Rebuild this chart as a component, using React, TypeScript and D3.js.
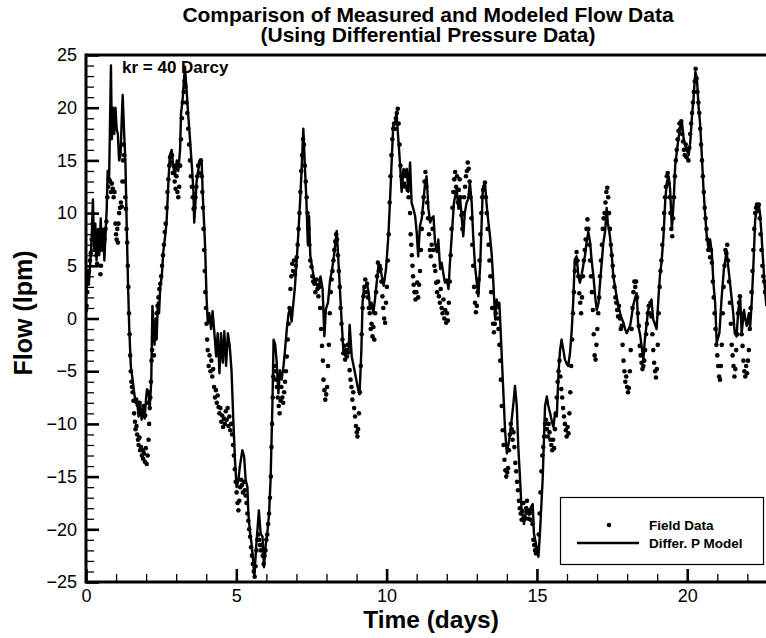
import { useEffect, useRef } from "react";
import * as d3 from "d3";

const titleLines = ["Comparison of Measured and Modeled Flow Data", "(Using Differential Pressure Data)"];
const annotation = "kr = 40 Darcy";
const legendLabels = ["Field Data", "Differ. P Model"];

const xMajor = [0, 5, 10, 15, 20];
const xMinor = [1, 2, 3, 4, 6, 7, 8, 9, 11, 12, 13, 14, 16, 17, 18, 19, 21, 22];
const yMajor = [-25, -20, -15, -10, -5, 0, 5, 10, 15, 20, 25];
const yMinor = [-24, -23, -22, -21, -19, -18, -17, -16, -14, -13, -12, -11, -9, -8, -7, -6, -4, -3, -2, -1,
  1, 2, 3, 4, 6, 7, 8, 9, 11, 12, 13, 14, 16, 17, 18, 19, 21, 22, 23, 24];

// [day, lpm] vertices of the modelled curve
const modelFlow: [number, number][] = [
  [0.0, 1.5], [0.04, 4.5], [0.1, 3.5], [0.16, 6], [0.2, 8.5], [0.23, 11.3], [0.27, 6.5], [0.31, 9], [0.35, 5.5],
  [0.4, 8.5], [0.44, 6], [0.49, 9.5], [0.53, 6.5], [0.57, 8.5], [0.61, 5.5], [0.65, 8], [0.69, 10.5], [0.72, 14],
  [0.77, 13.5], [0.83, 24], [0.86, 17], [0.9, 20], [0.94, 17.5], [0.98, 20], [1.02, 18], [1.06, 17.5], [1.1, 15],
  [1.15, 15.5], [1.19, 19], [1.22, 21.2], [1.27, 17.5], [1.31, 15], [1.36, 8], [1.4, 3], [1.44, -1], [1.49, -4.5],
  [1.55, -5.8], [1.6, -7], [1.65, -8], [1.7, -7.8], [1.75, -9.3], [1.8, -8], [1.85, -9.6], [1.9, -8.6], [1.95, -9.5],
  [2.0, -7.5], [2.03, -6.7], [2.08, -6.9], [2.12, -8.5], [2.17, -6], [2.21, 1.2], [2.25, -1], [2.28, -2.5], [2.32, 0],
  [2.35, -2], [2.39, 1.5], [2.43, 0.5], [2.47, 3], [2.52, 4], [2.57, 6.3], [2.62, 7.5], [2.68, 9.1], [2.74, 12.9],
  [2.79, 15.5], [2.85, 16], [2.9, 14.5], [2.96, 13.5], [3.02, 15], [3.07, 14], [3.13, 16], [3.16, 19.4], [3.22, 21],
  [3.29, 23.9], [3.35, 21.5], [3.4, 19.3], [3.46, 17], [3.52, 14.5], [3.57, 12.3], [3.6, 9.1], [3.64, 11], [3.68, 13],
  [3.73, 14], [3.79, 15], [3.85, 14.8], [3.88, 12], [3.92, 9.5], [3.96, 7], [4.01, 2], [4.05, -0.4], [4.1, 0.5],
  [4.16, -1], [4.21, 0.7], [4.26, -1], [4.33, -3.6], [4.38, -1.4], [4.44, -5.2], [4.49, -1.4], [4.55, -4.2],
  [4.6, -1.2], [4.66, -4.5], [4.72, -1.4], [4.78, -2.6], [4.84, -4.9], [4.9, -9.6], [4.96, -13.7], [5.01, -16],
  [5.07, -15.3], [5.12, -14], [5.2, -12.5], [5.26, -13.1], [5.31, -15.3], [5.37, -16], [5.4, -18.5], [5.46, -20.4],
  [5.51, -21.4], [5.57, -23.3], [5.6, -24.5], [5.66, -21.7], [5.71, -19.8], [5.75, -18.2], [5.81, -20.4],
  [5.87, -20.7], [5.92, -23.6], [5.98, -21.4], [6.03, -20.4], [6.09, -18.5], [6.14, -15.3], [6.2, -8.3], [6.24, -2],
  [6.29, -2.4], [6.34, -4], [6.4, -7.1], [6.45, -4.9], [6.51, -5.8], [6.57, -4.5], [6.62, -3], [6.68, -1], [6.74, 0.5],
  [6.79, 0.9], [6.84, -0.3], [6.9, 1.5], [6.95, 3], [7.01, 5.6], [7.06, 7.9], [7.12, 11], [7.17, 14], [7.23, 18],
  [7.28, 14.5], [7.33, 11.3], [7.38, 7], [7.42, 9.7], [7.46, 6], [7.52, 4.9], [7.6, 3.5], [7.67, 3.3], [7.73, 2.8],
  [7.8, 4], [7.87, 2.8], [7.93, -1.7], [7.98, 0.9], [8.05, 1.5], [8.12, 3.7], [8.18, 4.5], [8.25, 6], [8.34, 8.3],
  [8.43, 3.7], [8.5, -0.1], [8.56, -3], [8.62, -3.5], [8.68, -3.1], [8.73, -3.3], [8.77, -0.6], [8.84, -3.6],
  [8.95, -5.2], [9.06, -6.8], [9.1, -7.2], [9.16, -3], [9.2, 1.5], [9.24, 2.8], [9.3, 3.1], [9.34, 3.4], [9.4, 2.5],
  [9.45, 0.9], [9.5, 1.5], [9.56, 0.5], [9.62, 2], [9.67, 3.4], [9.73, 5], [9.78, 5], [9.84, 4], [9.9, 3.1],
  [9.98, 4.7], [10.06, 7.9], [10.11, 11], [10.17, 15], [10.22, 18.3], [10.28, 18.6], [10.33, 19.4], [10.39, 17],
  [10.45, 14.5], [10.5, 12], [10.56, 14.2], [10.62, 13.5], [10.67, 14.2], [10.72, 12], [10.78, 14.8], [10.83, 11],
  [10.9, 10.3], [10.95, 9.7], [11.0, 8.2], [11.05, 5.9], [11.11, 8.8], [11.17, 9.5], [11.22, 11], [11.28, 12.9],
  [11.33, 13.5], [11.39, 10.4], [11.45, 9.1], [11.5, 9.5], [11.56, 9.7], [11.61, 7.2], [11.67, 6.3], [11.72, 7.5],
  [11.78, 4.7], [11.83, 5.3], [11.89, 4.2], [11.94, 3.4], [12.0, 3.7], [12.06, 2.8], [12.1, 5], [12.17, 8],
  [12.24, 11], [12.33, 12.3], [12.39, 10.4], [12.44, 11.6], [12.5, 9.5], [12.55, 7.8], [12.6, 10], [12.66, 11],
  [12.71, 11.3], [12.77, 12.9], [12.83, 11], [12.88, 7.8], [12.94, 5], [13.0, 3.4], [13.05, 2.1], [13.11, 4.9],
  [13.16, 9], [13.2, 12.3], [13.27, 12.9], [13.33, 10.7], [13.39, 9], [13.44, 7.8], [13.5, 5.9], [13.55, 3.4],
  [13.61, -0.1], [13.66, 1.8], [13.71, 1], [13.75, 1.5], [13.79, -1], [13.83, -3.6], [13.88, -6.8], [13.94, -10.6],
  [14.0, -12.8], [14.08, -11.5], [14.16, -9.6], [14.22, -8], [14.27, -6.4], [14.33, -8.3], [14.38, -12.2],
  [14.44, -15.3], [14.49, -18.2], [14.57, -19.5], [14.66, -17.9], [14.72, -18.6], [14.77, -18.5], [14.82, -17.8],
  [14.86, -17.6], [14.9, -20.4], [14.99, -21.7], [15.05, -22.6], [15.1, -20.4], [15.19, -15.3], [15.27, -8.3],
  [15.33, -7.4], [15.38, -8.3], [15.44, -9], [15.5, -9.8], [15.55, -10.3], [15.6, -9], [15.66, -9.3], [15.72, -5],
  [15.77, -3], [15.82, -2], [15.88, -3], [15.93, -3.9], [15.99, -4.3], [16.04, -4.5], [16.1, -3.3], [16.16, -1],
  [16.21, 1.8], [16.26, 5.6], [16.32, 5.9], [16.38, 4], [16.43, 3.4], [16.49, 4.2], [16.54, 5], [16.6, 6],
  [16.65, 7.2], [16.71, 8.2], [16.77, 7.2], [16.82, 5.5], [16.88, 4], [16.94, 2], [16.99, 0.8], [17.05, 1.5],
  [17.1, 3.4], [17.16, 5.5], [17.21, 7.2], [17.27, 8.3], [17.32, 10.5], [17.36, 9], [17.43, 7.8], [17.49, 6],
  [17.54, 4], [17.6, 3], [17.65, 2.1], [17.71, 1.2], [17.77, 0.5], [17.82, 0], [17.88, -0.4], [17.93, -1],
  [17.99, -1.4], [18.05, -1], [18.1, -0.7], [18.15, 0.2], [18.2, 1.2], [18.26, 1.9], [18.32, 2.4], [18.37, -0.7],
  [18.43, -1.5], [18.48, -2.6], [18.54, -3.9], [18.59, -2], [18.65, -0.5], [18.7, 0.8], [18.76, 1.3], [18.81, 1.8],
  [18.87, -0.1], [18.92, -0.5], [18.98, -1], [19.04, 1.8], [19.09, 4], [19.15, 5.5], [19.21, 7.8], [19.27, 11.3],
  [19.32, 12.9], [19.38, 13.5], [19.43, 12.3], [19.49, 8.5], [19.55, 11.3], [19.6, 14.5], [19.66, 16], [19.71, 17.1],
  [19.77, 18.2], [19.82, 18.7], [19.88, 17.1], [19.93, 16.5], [19.97, 16.1], [20.05, 15.5], [20.1, 16.7],
  [20.16, 19.3], [20.21, 20.9], [20.27, 23.4], [20.32, 22.8], [20.38, 20], [20.43, 18.4], [20.49, 15.2],
  [20.54, 12.3], [20.6, 9.7], [20.65, 7.8], [20.71, 6.6], [20.76, 7.5], [20.82, 6.2], [20.87, 3.4], [20.93, 1.4],
  [20.98, -2.3], [21.03, -1.8], [21.07, -1.4], [21.14, 1.8], [21.22, 4.7], [21.31, 6.4], [21.36, 5], [21.4, 4],
  [21.47, 2.1], [21.53, 0.5], [21.58, -1.4], [21.64, -1.7], [21.7, 0.8], [21.76, 2.1], [21.81, -1.4], [21.86, 0],
  [21.89, 0.8], [21.94, -0.2], [21.98, -0.7], [22.05, 0.5], [22.09, -1], [22.15, 1.8], [22.2, 5], [22.26, 9.4],
  [22.32, 10.5], [22.38, 10.8], [22.42, 10], [22.47, 8], [22.5, 6.5], [22.57, 3.4], [22.63, 1.2],
];

// [day, lpm] measured field samples
const fieldFlow: [number, number][] = [
  [0.0, 0.8], [0.02, 1.2], [0.04, 2.5], [0.07, 3.3], [0.1, 4.5], [0.13, 5.5], [0.16, 6.2], [0.19, 7.5], [0.22, 9],
  [0.25, 7.5], [0.28, 6.5], [0.31, 7.8], [0.34, 6], [0.37, 5.2], [0.4, 7], [0.43, 8.3], [0.46, 6.5], [0.48, 4.2],
  [0.5, 5], [0.53, 7], [0.56, 8], [0.59, 6.5], [0.62, 7.5], [0.65, 8.5], [0.68, 9.2], [0.71, 11.5], [0.74, 12.5],
  [0.77, 13.2], [0.8, 13], [0.83, 12], [0.86, 12.8], [0.89, 12.3], [0.92, 11.5], [0.95, 12], [0.98, 9], [1.0, 8],
  [1.02, 7.5], [1.04, 8.5], [1.06, 7.2], [1.08, 9], [1.1, 10], [1.13, 10.5], [1.16, 11], [1.19, 10.6], [1.21, 13],
  [1.23, 15], [1.25, 16.5], [1.27, 15.5], [1.29, 13], [1.31, 11.5], [1.33, 10.4], [1.35, 8.5], [1.37, 7.2],
  [1.39, 5], [1.41, 3], [1.43, 0.5], [1.45, -1.5], [1.47, -3.5], [1.49, -5], [1.51, -6], [1.53, -6.5], [1.55, -7],
  [1.58, -7.8], [1.6, -9], [1.63, -9.8], [1.65, -10.5], [1.67, -7.7], [1.68, -10.2], [1.7, -11], [1.72, -8.2],
  [1.73, -11.5], [1.75, -12], [1.78, -11.3], [1.78, -8], [1.8, -12.5], [1.83, -12.2], [1.84, -8.7], [1.86, -13],
  [1.88, -12.5], [1.9, -13.3], [1.92, -8.3], [1.93, -12.8], [1.96, -13.6], [1.97, -9.2], [1.99, -12.3],
  [2.02, -13.8], [2.04, -8], [2.05, -13], [2.08, -11.5], [2.1, -10], [2.12, -8.5], [2.14, -7.5], [2.16, -6],
  [2.18, -4], [2.2, -3], [2.23, -2], [2.26, -3.5], [2.29, -1], [2.32, -0.5], [2.35, 0.5], [2.38, 1.2], [2.41, 2],
  [2.44, 2.8], [2.47, 3.3], [2.5, 4], [2.53, 5], [2.56, 6], [2.59, 7], [2.62, 8.2], [2.65, 9], [2.68, 10.5],
  [2.71, 12], [2.74, 13.2], [2.77, 14.5], [2.8, 15.3], [2.83, 14.8], [2.86, 15.5], [2.89, 13.8], [2.92, 14.5],
  [2.95, 13], [2.98, 12.3], [3.01, 13.5], [3.04, 12], [3.07, 11.5], [3.1, 12.5], [3.13, 14.5], [3.16, 17], [3.19, 19],
  [3.22, 20.5], [3.25, 21.5], [3.28, 22.5], [3.31, 22], [3.34, 20.5], [3.37, 19.5], [3.4, 18], [3.43, 16.5],
  [3.46, 15], [3.49, 13.5], [3.52, 12.5], [3.55, 11.5], [3.58, 10.4], [3.61, 10.5], [3.64, 11.5], [3.67, 12.5],
  [3.7, 13.5], [3.73, 14.5], [3.76, 13.8], [3.79, 14.8], [3.82, 15], [3.85, 13.5], [3.87, 12], [3.89, 10.5],
  [3.91, 8.5], [3.93, 6.5], [3.95, 4.5], [3.97, 2.5], [3.99, 1], [4.01, -0.5], [4.03, -2], [4.05, -3], [4.08, -4.5],
  [4.11, -3.5], [4.14, -5], [4.17, -4], [4.2, -5.5], [4.23, -4.8], [4.26, -6.5], [4.29, -7.5], [4.32, -6.8],
  [4.35, -8], [4.38, -7.3], [4.41, -8.4], [4.44, -9], [4.47, -8.5], [4.5, -9.8], [4.53, -9.2], [4.56, -10.3],
  [4.59, -9.5], [4.62, -10], [4.65, -8.8], [4.68, -9.6], [4.71, -8.5], [4.74, -10.2], [4.77, -9.3], [4.8, -10.6],
  [4.83, -10], [4.86, -11], [4.89, -12], [4.92, -13], [4.95, -14.3], [4.98, -15.5], [5.01, -16.5], [5.04, -17.5],
  [5.07, -18.2], [5.1, -17.3], [5.13, -16], [5.16, -15.3], [5.19, -15.8], [5.22, -16.5], [5.25, -15.5],
  [5.28, -16.3], [5.31, -16.8], [5.34, -17.5], [5.37, -18.5], [5.4, -19.2], [5.43, -20], [5.46, -20.7],
  [5.49, -21.7], [5.52, -22.5], [5.55, -23.3], [5.58, -24], [5.61, -24.5], [5.64, -23.5], [5.67, -22], [5.7, -21],
  [5.73, -20.5], [5.76, -21], [5.79, -21.5], [5.82, -22], [5.85, -21.5], [5.88, -22.5], [5.91, -23.3], [5.94, -22.5],
  [5.97, -22], [6.0, -21], [6.03, -20.5], [6.06, -19.5], [6.09, -18.5], [6.12, -17], [6.15, -15], [6.17, -12.2],
  [6.19, -10], [6.21, -7.5], [6.23, -5.5], [6.26, -4.5], [6.29, -5], [6.32, -5.8], [6.35, -6.5], [6.38, -7.5],
  [6.41, -8.3], [6.44, -9], [6.47, -7.8], [6.5, -6.5], [6.53, -7.5], [6.56, -8], [6.59, -7], [6.62, -6], [6.65, -5],
  [6.68, -3.6], [6.71, -2], [6.74, -0.5], [6.77, 1], [6.8, 2.8], [6.83, 4], [6.86, 5.2], [6.89, 4.5], [6.92, 5.5],
  [6.95, 4.2], [6.98, 5], [7.01, 5.8], [7.04, 7], [7.07, 8.5], [7.1, 10], [7.13, 12], [7.16, 14], [7.19, 15.5],
  [7.22, 17], [7.25, 16.5], [7.28, 14.5], [7.31, 13], [7.34, 11.5], [7.37, 10], [7.4, 8.5], [7.43, 7], [7.46, 5.5],
  [7.5, 4.9], [7.53, 4], [7.56, 3.5], [7.6, 3.3], [7.63, 2.5], [7.67, 3.7], [7.7, 2.8], [7.73, 2.1], [7.76, 3],
  [7.79, 1], [7.82, -1], [7.85, -2.6], [7.88, -4], [7.9, -5.8], [7.93, -6.8], [7.96, -7.7], [7.99, -7.2],
  [8.02, -6.5], [8.05, -4.5], [8.08, -2.5], [8.11, 0.5], [8.14, 2.5], [8.17, 3.7], [8.2, 4.5], [8.23, 5.5],
  [8.26, 6.5], [8.29, 7.3], [8.32, 8], [8.35, 7.5], [8.38, 6], [8.41, 4.5], [8.44, 3], [8.47, 1], [8.5, -0.5],
  [8.53, -2], [8.56, -3.3], [8.59, -2.6], [8.62, -3.9], [8.65, -3], [8.68, -3.6], [8.71, -2.5], [8.74, -3.2],
  [8.77, -4.9], [8.8, -5.8], [8.83, -6.5], [8.86, -7.7], [8.89, -7], [8.92, -8.5], [8.95, -9.3], [8.98, -10.2],
  [9.01, -10.8], [9.03, -11.2], [9.05, -10.5], [9.08, -9], [9.11, -7], [9.14, -4.5], [9.17, -1.5], [9.2, 1],
  [9.23, 2.1], [9.26, 3], [9.29, 3.7], [9.32, 2.5], [9.35, 3.3], [9.38, 2], [9.41, 1], [9.44, 0.5], [9.47, -1],
  [9.5, -0.5], [9.53, -1.7], [9.56, -0.8], [9.59, -2], [9.62, 0.5], [9.65, 2.5], [9.68, 4], [9.71, 5.3], [9.74, 4.5],
  [9.77, 5], [9.8, 4.7], [9.83, 3.5], [9.86, 2.1], [9.89, 1], [9.92, 0], [9.95, -0.4], [9.98, 1.5], [10.01, 3],
  [10.04, 5.5], [10.07, 8], [10.1, 11], [10.13, 13.5], [10.16, 15.5], [10.19, 17], [10.22, 18], [10.25, 18.5],
  [10.28, 18], [10.31, 19], [10.34, 19.5], [10.37, 19.9], [10.4, 18.5], [10.43, 16.5], [10.46, 14.5], [10.49, 13.5],
  [10.52, 12.5], [10.55, 13.5], [10.58, 12.8], [10.61, 14], [10.64, 12.5], [10.67, 13.5], [10.7, 12.2],
  [10.73, 11.5], [10.76, 13], [10.78, 10], [10.8, 8], [10.82, 7], [10.84, 6], [10.86, 5], [10.88, 4], [10.9, 3.2],
  [10.93, 2.5], [10.96, 1.8], [10.99, 2.5], [11.02, 3.4], [11.05, 2], [11.08, 3.2], [11.11, 4.5], [11.14, 6.5],
  [11.17, 8.5], [11.2, 10], [11.23, 11.5], [11.26, 13], [11.29, 13.9], [11.32, 12.5], [11.35, 11], [11.38, 9.5],
  [11.41, 8], [11.44, 6.5], [11.47, 5.9], [11.5, 7], [11.53, 8.5], [11.56, 6.5], [11.59, 5], [11.62, 4.5],
  [11.65, 3.4], [11.68, 2.5], [11.71, 3.5], [11.74, 2.1], [11.77, 1.5], [11.8, 2.8], [11.83, 1], [11.86, 0.5],
  [11.89, 1.8], [11.92, 0], [11.95, 0.8], [11.98, -0.4], [12.01, 0.5], [12.04, -0.2], [12.07, 1.5], [12.1, 3.5],
  [12.13, 6], [12.16, 8.5], [12.19, 10.5], [12.22, 12], [12.25, 13.2], [12.28, 13.9], [12.31, 12.5], [12.34, 13.5],
  [12.37, 11], [12.4, 12.2], [12.43, 13.2], [12.46, 11.5], [12.49, 9.8], [12.52, 8.5], [12.55, 10], [12.58, 11.5],
  [12.61, 12.5], [12.64, 13.5], [12.67, 14], [12.7, 14.8], [12.73, 14.2], [12.76, 13], [12.79, 11.5], [12.82, 9.5],
  [12.85, 7], [12.88, 5], [12.91, 3], [12.94, 1.5], [12.97, 0.6], [13.0, 1.2], [13.03, 2.5], [13.06, 3.7],
  [13.09, 5.5], [13.12, 8], [13.15, 10], [13.18, 11.5], [13.21, 12.2], [13.24, 12.5], [13.27, 12.9], [13.3, 11.5],
  [13.33, 10], [13.36, 8.5], [13.39, 7], [13.42, 5.5], [13.45, 4], [13.48, 2.5], [13.51, 1], [13.54, -0.5],
  [13.57, -1.3], [13.6, -0.5], [13.63, 0.5], [13.66, 1.2], [13.69, 0], [13.72, -1], [13.75, -2.5], [13.78, -4],
  [13.8, -5.8], [13.83, -8.3], [13.86, -10.6], [13.89, -12], [13.92, -13.4], [13.95, -14.4], [13.98, -15],
  [14.01, -14.6], [14.04, -14.2], [14.07, -12.5], [14.1, -11], [14.13, -10], [14.16, -10.5], [14.19, -11.5],
  [14.22, -10.8], [14.25, -12.2], [14.28, -13.7], [14.31, -14.5], [14.34, -15.5], [14.37, -16.3], [14.4, -17.3],
  [14.43, -18], [14.46, -18.5], [14.49, -19.1], [14.52, -18.3], [14.55, -17.5], [14.58, -18.8], [14.61, -19],
  [14.64, -18], [14.67, -17.3], [14.7, -18.2], [14.73, -19], [14.76, -18.5], [14.79, -19.1], [14.82, -18],
  [14.85, -19.5], [14.88, -21], [14.91, -21.5], [14.94, -22], [14.97, -22.3], [15.0, -21.8], [15.03, -22],
  [15.06, -20.5], [15.09, -18.5], [15.12, -16.5], [15.15, -14.5], [15.18, -13], [15.21, -12.2], [15.24, -11.2],
  [15.27, -10], [15.3, -9.6], [15.33, -10.5], [15.36, -11.2], [15.39, -10], [15.42, -10.8], [15.45, -11.5],
  [15.48, -12], [15.51, -12.5], [15.54, -11.5], [15.57, -12.3], [15.6, -10.5], [15.63, -9], [15.66, -7.5],
  [15.69, -6], [15.72, -5], [15.75, -4], [15.78, -5.5], [15.81, -6.7], [15.84, -7.5], [15.87, -8.5], [15.9, -9.3],
  [15.93, -10], [15.96, -10.6], [15.99, -11.2], [16.02, -10.3], [16.05, -10.9], [16.08, -9], [16.11, -7],
  [16.14, -4.5], [16.17, -2], [16.2, 0.5], [16.23, 2.5], [16.26, 4.5], [16.29, 5.3], [16.32, 6.3], [16.35, 5.5],
  [16.38, 4], [16.41, 2.4], [16.44, 1.5], [16.47, 0.5], [16.5, 2], [16.53, 4], [16.56, 5.5], [16.59, 6.5],
  [16.62, 7.5], [16.65, 8.5], [16.68, 9.4], [16.71, 8.5], [16.74, 7], [16.77, 5.5], [16.8, 4], [16.83, 2.5],
  [16.86, 0.8], [16.89, -1.5], [16.92, -3.5], [16.95, -3.9], [16.98, -2.5], [17.01, -1], [17.04, 0.5], [17.07, 2],
  [17.1, 4], [17.13, 5.5], [17.16, 7], [17.19, 8.5], [17.22, 9.5], [17.25, 10], [17.28, 11], [17.31, 12],
  [17.34, 12.4], [17.37, 11.5], [17.4, 10], [17.43, 8.5], [17.46, 7], [17.49, 6], [17.52, 5], [17.55, 4], [17.58, 3],
  [17.61, 2], [17.64, 1.5], [17.67, 0.8], [17.7, 0.2], [17.73, 1.2], [17.76, 0], [17.79, -1], [17.82, -0.7],
  [17.85, -2.5], [17.88, -4], [17.91, -5], [17.94, -6], [17.97, -5.5], [18.0, -6.5], [18.03, -7], [18.06, -6.6],
  [18.09, -5], [18.12, -3], [18.15, -1], [18.18, 1], [18.21, 2.5], [18.24, 3.5], [18.27, 3], [18.3, 3.5], [18.33, 2],
  [18.36, 0.5], [18.39, -0.7], [18.42, -2.6], [18.45, -3.5], [18.48, -4.2], [18.51, -4.8], [18.54, -4.5],
  [18.57, -4], [18.6, -3], [18.63, -1.5], [18.66, -0.5], [18.69, 0.5], [18.72, 1.2], [18.75, 0.5], [18.78, 1.5],
  [18.81, 0.2], [18.84, -1.5], [18.87, -3], [18.9, -4.2], [18.93, -5], [18.96, -5.6], [18.99, -4.8], [19.02, -2.5],
  [19.05, 0.5], [19.08, 3], [19.11, 4.5], [19.14, 5.5], [19.17, 7], [19.2, 8.5], [19.23, 10], [19.26, 11.5],
  [19.29, 12.5], [19.32, 13.5], [19.35, 13.8], [19.38, 12.8], [19.41, 11.5], [19.44, 10], [19.47, 8.5], [19.5, 7.8],
  [19.53, 9.5], [19.56, 11.5], [19.59, 13.5], [19.62, 15], [19.65, 16], [19.68, 17], [19.71, 17.8], [19.74, 18.5],
  [19.77, 18], [19.8, 18.7], [19.83, 17.5], [19.86, 16.8], [19.89, 16], [19.92, 15.5], [19.95, 16.5], [19.98, 15.3],
  [20.01, 16], [20.04, 15], [20.07, 16.2], [20.1, 17.5], [20.13, 18.5], [20.16, 19.5], [20.19, 20.5], [20.22, 21.5],
  [20.25, 22.5], [20.28, 23.7], [20.31, 22.8], [20.34, 21.5], [20.37, 20.5], [20.4, 19.5], [20.43, 18], [20.46, 16.5],
  [20.49, 15], [20.52, 13.5], [20.55, 12], [20.58, 10.5], [20.61, 9.5], [20.64, 8.5], [20.67, 7.5], [20.7, 6.5],
  [20.73, 7], [20.76, 5.8], [20.79, 6.5], [20.82, 5.3], [20.85, 3.5], [20.88, 2], [20.91, 0.5], [20.94, -1],
  [20.97, -2.5], [21.0, -3.5], [21.03, -4.5], [21.06, -5.5], [21.09, -5.8], [21.12, -4.5], [21.15, -2.5],
  [21.18, 0.5], [21.21, 3], [21.24, 5], [21.27, 6.5], [21.3, 6.2], [21.33, 7], [21.36, 5.5], [21.39, 3.5],
  [21.42, 1.5], [21.45, -0.5], [21.48, -2.5], [21.51, -3.5], [21.54, -4.5], [21.57, -5.5], [21.6, -4.8], [21.63, -3],
  [21.66, -1.5], [21.69, 0.5], [21.72, 1.5], [21.75, 2.1], [21.78, 0.5], [21.81, -1.5], [21.84, -2.6], [21.87, -4],
  [21.9, -5], [21.93, -5.5], [21.96, -4.5], [21.99, -5.2], [22.02, -4], [22.05, -3], [22.08, -1], [22.11, 1],
  [22.14, 2.5], [22.17, 4.5], [22.2, 6.5], [22.23, 8.5], [22.26, 10], [22.29, 10.5], [22.32, 10.8], [22.35, 10.2],
  [22.38, 10.8], [22.41, 9.5], [22.44, 8], [22.47, 6.5], [22.5, 5], [22.53, 4], [22.56, 3.5], [22.59, 2.5], [22.62, 3],
];

export default function App() {
  const ref = useRef<SVGSVGElement>(null);

  useEffect(() => {
    if (!ref.current) return;
    const w = 766,
      h = 638,
      margin = { top: 55, right: 0, bottom: 56, left: 86 };
    const font = "'Liberation Sans', Arial, Helvetica, sans-serif";

    const svg = d3.select(ref.current);
    svg.selectAll("*").remove();

    const x = d3.scaleLinear().domain([0, 22.62]).range([margin.left, w - margin.right]);
    const y = d3.scaleLinear().domain([-25, 25]).range([h - margin.bottom, margin.top]);
    const y0 = h - margin.bottom;

    svg.append("rect").attr("width", w).attr("height", h).attr("fill", "#fff");

    // minor ticks, pointing into the plot
    const minorX = svg
      .append("g")
      .attr("transform", `translate(0,${y0})`)
      .call(d3.axisBottom(x).tickValues(xMinor).tickSize(-8).tickFormat(() => ""));
    const minorY = svg
      .append("g")
      .attr("transform", `translate(${margin.left},0)`)
      .call(d3.axisLeft(y).tickValues(yMinor).tickSize(-8).tickFormat(() => ""));
    [minorX, minorY].forEach((g) => {
      g.select(".domain").remove();
      g.selectAll("line").attr("stroke", "#000").attr("stroke-width", 1.3);
    });

    // major ticks with labels
    const majorX = svg
      .append("g")
      .attr("transform", `translate(0,${y0})`)
      .call(d3.axisBottom(x).tickValues(xMajor).tickSize(-13).tickPadding(7).tickFormat(d3.format("d")));
    const majorY = svg
      .append("g")
      .attr("transform", `translate(${margin.left},0)`)
      .call(d3.axisLeft(y).tickValues(yMajor).tickSize(-13).tickPadding(9).tickFormat(d3.format("d")));
    [majorX, majorY].forEach((g) => {
      g.select(".domain").remove();
      g.selectAll("line").attr("stroke", "#000").attr("stroke-width", 2.6);
      g.attr("font-family", font).attr("font-size", 18);
      g.selectAll("text").attr("fill", "#000");
    });

    // data
    svg
      .append("clipPath")
      .attr("id", "plot-clip")
      .append("rect")
      .attr("x", margin.left)
      .attr("y", margin.top)
      .attr("width", w - margin.left - margin.right)
      .attr("height", y0 - margin.top);

    const plot = svg.append("g").attr("clip-path", "url(#plot-clip)");

    plot
      .selectAll("circle")
      .data(fieldFlow)
      .join("circle")
      .attr("cx", (d) => x(d[0]))
      .attr("cy", (d) => y(d[1]))
      .attr("r", 2.3)
      .attr("fill", "#000");

    const line = d3
      .line<[number, number]>()
      .x((d) => x(d[0]))
      .y((d) => y(d[1]));

    plot
      .append("path")
      .datum(modelFlow)
      .attr("d", line)
      .attr("fill", "none")
      .attr("stroke", "#000")
      .attr("stroke-width", 2.4)
      .attr("stroke-linejoin", "round");

    // frame
    const frame = svg.append("g").attr("stroke", "#000").attr("stroke-width", 3);
    frame.append("line").attr("x1", margin.left).attr("x2", w).attr("y1", margin.top).attr("y2", margin.top);
    frame.append("line").attr("x1", margin.left).attr("x2", w).attr("y1", y0).attr("y2", y0);
    frame
      .append("line")
      .attr("x1", margin.left)
      .attr("x2", margin.left)
      .attr("y1", margin.top - 1.5)
      .attr("y2", y0 + 1.5);

    // annotation
    svg
      .append("text")
      .attr("x", 122)
      .attr("y", 73)
      .attr("font-family", font)
      .attr("font-weight", "bold")
      .attr("font-size", 17)
      .text(annotation);

    // legend
    const lg = svg.append("g").attr("font-family", font).attr("font-weight", "bold").attr("font-size", 13.5);
    lg.append("rect")
      .attr("x", 560.5)
      .attr("y", 497.5)
      .attr("width", 203)
      .attr("height", 67)
      .attr("fill", "#fff")
      .attr("stroke", "#000")
      .attr("stroke-width", 1.2);
    lg.append("circle").attr("cx", 609).attr("cy", 525).attr("r", 2.3).attr("fill", "#000");
    lg.append("line")
      .attr("x1", 577)
      .attr("x2", 639)
      .attr("y1", 543)
      .attr("y2", 543)
      .attr("stroke", "#000")
      .attr("stroke-width", 2.4);
    lg.append("text").attr("x", 649).attr("y", 530).text(legendLabels[0]);
    lg.append("text").attr("x", 649).attr("y", 548).text(legendLabels[1]);

    // titles
    const tt = svg
      .append("g")
      .attr("font-family", font)
      .attr("font-weight", "bold")
      .attr("font-size", 21)
      .attr("text-anchor", "middle");
    tt.append("text").attr("x", 428).attr("y", 22).text(titleLines[0]);
    tt.append("text").attr("x", 428).attr("y", 42).text(titleLines[1]);

    svg
      .append("text")
      .attr("x", 431)
      .attr("y", 628)
      .attr("text-anchor", "middle")
      .attr("font-family", font)
      .attr("font-weight", "bold")
      .attr("font-size", 24.5)
      .text("Time (days)");

    svg
      .append("text")
      .attr("transform", "translate(32,313) rotate(-90)")
      .attr("text-anchor", "middle")
      .attr("font-family", font)
      .attr("font-weight", "bold")
      .attr("font-size", 25)
      .text("Flow (lpm)");
  }, []);

  return (
    <svg
      ref={ref}
      width={766}
      height={638}
      style={{ position: "absolute", left: 0, top: 0, display: "block" }}
    />
  );
}
